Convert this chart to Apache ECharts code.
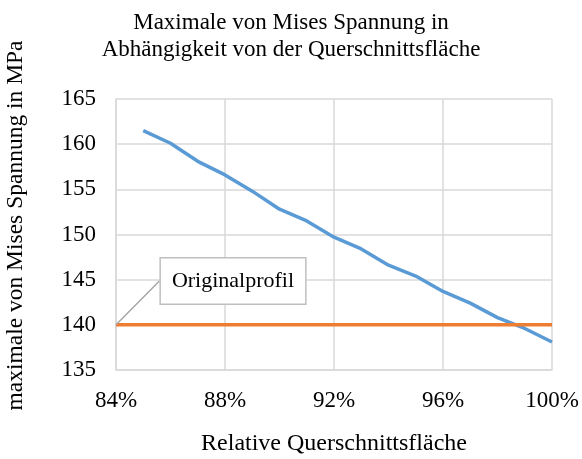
<!DOCTYPE html>
<html>
<head>
<meta charset="utf-8">
<script src="https://cdn.jsdelivr.net/npm/echarts@6/dist/echarts.min.js"></script>
<style>
  html, body { margin: 0; padding: 0; background: #fff; }
  #chart { width: 582px; height: 459px; }
</style>
</head>
<body>
<div id="chart"></div>
<script>
// relative Querschnittsfläche in %
const flaeche = [85, 86, 87, 88, 89, 90, 91, 92, 93, 94, 95, 96, 97, 98, 99, 100]
// maximale von Mises Spannung in MPa
const spannung = [161.5, 160.1, 158.1, 156.6, 154.8, 152.8, 151.5, 149.7, 148.4, 146.6, 145.4, 143.7, 142.4, 140.8, 139.6, 138.1]
// Originalprofil
const originalX = [84, 100]
const originalY = [140, 140]

const font = 'Liberation Serif, Times New Roman, serif'

const chart = echarts.init(document.getElementById('chart'))

chart.setOption({
  animation: false,
  textStyle: { fontFamily: font },
  title: {
    text: 'Maximale von Mises Spannung in\nAbhängigkeit von der Querschnittsfläche',
    left: 'center',
    top: 4,
    textStyle: {
      fontFamily: font,
      fontWeight: 'normal',
      fontSize: 23,
      lineHeight: 27,
      color: '#000'
    }
  },
  grid: {
    left: 116,
    right: 30,
    top: 99,
    bottom: 89,
    outerBoundsMode: 'none'
  },
  xAxis: {
    type: 'value',
    min: 84,
    max: 100,
    interval: 4,
    name: 'Relative Querschnittsfläche',
    nameLocation: 'middle',
    nameGap: 62,
    nameTextStyle: { fontFamily: font, fontSize: 24, color: '#000' },
    axisLine: { lineStyle: { color: '#d9d9d9', width: 1.5 } },
    axisTick: { show: false },
    axisLabel: {
      formatter: '{value}%',
      fontFamily: font,
      fontSize: 23,
      color: '#000',
      margin: 19
    },
    splitLine: { show: true, lineStyle: { color: '#d9d9d9', width: 1.5 } }
  },
  yAxis: {
    type: 'value',
    min: 135,
    max: 165,
    interval: 5,
    name: 'maximale von Mises Spannung in MPa',
    nameLocation: 'middle',
    nameGap: 88,
    nameTextStyle: { fontFamily: font, fontSize: 23.5, color: '#000', padding: [0, 0, 0, 18] },
    axisLine: { show: true, lineStyle: { color: '#d9d9d9', width: 1.5 } },
    axisTick: { show: false },
    axisLabel: {
      fontFamily: font,
      fontSize: 23,
      color: '#000',
      margin: 20
    },
    splitLine: { show: true, lineStyle: { color: '#d9d9d9', width: 1.5 } }
  },
  series: [
    {
      name: 'Spannung',
      type: 'line',
      data: flaeche.map((x, i) => [x, spannung[i]]),
      showSymbol: false,
      lineStyle: { color: '#5b9bd5', width: 3.5 },
      itemStyle: { color: '#5b9bd5' }
    },
    {
      name: 'Originalprofil',
      type: 'line',
      data: originalX.map((x, i) => {
        if (i === 0) {
          return {
            value: [x, originalY[i]],
            symbol: 'circle',
            symbolSize: 0,
            label: {
              show: true,
              formatter: 'Originalprofil',
              fontFamily: font,
              fontSize: 22,
              color: '#000',
              backgroundColor: '#fff',
              borderColor: '#bfbfbf',
              borderWidth: 1.5,
              padding: [12, 11, 11, 11]
            }
          }
        }
        return [x, originalY[i]]
      }),
      symbol: 'none',
      labelLine: {
        show: true,
        lineStyle: { color: '#a6a6a6', width: 1.5 }
      },
      labelLayout: { x: 233, y: 281, align: 'center', verticalAlign: 'middle' },
      lineStyle: { color: '#ed7d31', width: 3.5 },
      itemStyle: { color: '#ed7d31' }
    }
  ]
})
</script>
</body>
</html>
